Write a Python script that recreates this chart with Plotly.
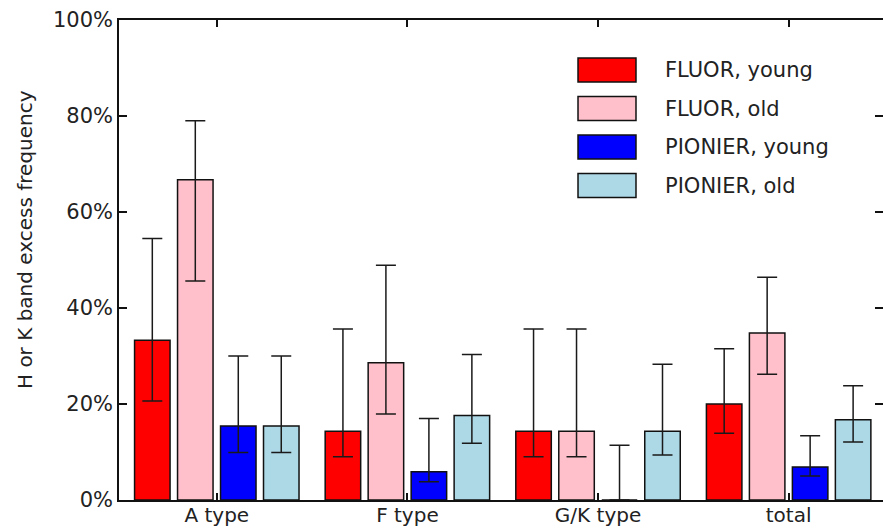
import plotly.graph_objects as go

categories = ["A type", "F type", "G/K type", "total"]
series_names = ["FLUOR, young", "FLUOR, old", "PIONIER, young", "PIONIER, old"]
series_colors = ["#ff0000", "#ffc0cb", "#0000ff", "#add8e6"]

fluor_young = [33.3, 14.3, 14.3, 20.0]
fluor_young_hi = [54.5, 35.6, 35.6, 31.5]
fluor_young_lo = [20.6, 9.0, 9.0, 13.9]

fluor_old = [66.7, 28.6, 14.3, 34.8]
fluor_old_hi = [79.0, 48.9, 35.6, 46.4]
fluor_old_lo = [45.6, 17.9, 9.0, 26.2]

pionier_young = [15.4, 5.9, 0.0, 6.9]
pionier_young_hi = [30.0, 17.0, 11.4, 13.4]
pionier_young_lo = [9.9, 3.8, 0.0, 5.0]

pionier_old = [15.4, 17.6, 14.3, 16.7]
pionier_old_hi = [30.0, 30.3, 28.3, 23.8]
pionier_old_lo = [9.9, 11.8, 9.4, 12.1]

y_ticks = [0, 20, 40, 60, 80, 100]
y_tick_labels = ["0%", "20%", "40%", "60%", "80%", "100%"]

values = [fluor_young, fluor_old, pionier_young, pionier_old]
highs = [fluor_young_hi, fluor_old_hi, pionier_young_hi, pionier_old_hi]
lows = [fluor_young_lo, fluor_old_lo, pionier_young_lo, pionier_old_lo]

FONT = "DejaVu Sans"
TXT = "#222222"
fig = go.Figure()
for name, color, v, hi, lo in zip(series_names, series_colors, values, highs, lows):
    fig.add_trace(go.Bar(
        x=categories, y=v, name=name,
        marker=dict(color=color, line=dict(color="#111111", width=1.5)),
        error_y=dict(type="data", symmetric=False,
                     array=[h - a for h, a in zip(hi, v)],
                     arrayminus=[a - l for a, l in zip(v, lo)],
                     color="#1a1a1a", thickness=1.5, width=10),
        showlegend=False,
    ))

# manual legend with large swatches
shapes = []
annotations = []
row0 = 0.8958
step = 0.0802
for i, (name, color) in enumerate(zip(series_names, series_colors)):
    yc = row0 - i * step
    shapes.append(dict(type="rect", xref="paper", yref="paper",
                       x0=0.6008, x1=0.6767, y0=yc - 0.025, y1=yc + 0.025,
                       fillcolor=color, line=dict(color="#111111", width=1.5)))
    annotations.append(dict(xref="paper", yref="paper", x=0.712, y=yc,
                            text=name, showarrow=False, xanchor="left", yanchor="middle",
                            font=dict(family=FONT, size=21, color=TXT)))

# y-axis title placed as annotation (centred like the reference)
annotations.append(dict(xref="paper", yref="paper", x=-0.123, y=0.5417,
                        text="H or K band excess frequency", showarrow=False,
                        textangle=-90, xanchor="center", yanchor="middle",
                        font=dict(family=FONT, size=20, color=TXT)))

fig.update_layout(
    width=883, height=529,
    margin=dict(l=119, r=0, t=20, b=29),
    paper_bgcolor="white", plot_bgcolor="white",
    barmode="group", bargap=0.098, bargroupgap=0.174,
    font=dict(family=FONT, size=21, color=TXT),
    shapes=shapes, annotations=annotations,
    xaxis=dict(range=[-0.513, 3.495], showline=True, linecolor="#111111", linewidth=1.5,
               mirror="ticks", ticks="inside", ticklen=7, tickwidth=1.5, tickcolor="#111111",
               showgrid=False, automargin=False, ticklabelstandoff=-4,
               tickfont=dict(family=FONT, size=20, color=TXT)),
    yaxis=dict(range=[0, 100], tickmode="array", tickvals=y_ticks, ticktext=y_tick_labels,
               showline=True, automargin=False,
               linecolor="#111111", linewidth=1.5, mirror="ticks", ticks="inside",
               ticklen=8, tickwidth=1.5, tickcolor="#111111", showgrid=False, zeroline=False,
               tickfont=dict(family=FONT, size=21, color=TXT)),
)

fig.write_html("out.html", config={"displayModeBar": False},
               post_script="document.body.style.margin='0';")
